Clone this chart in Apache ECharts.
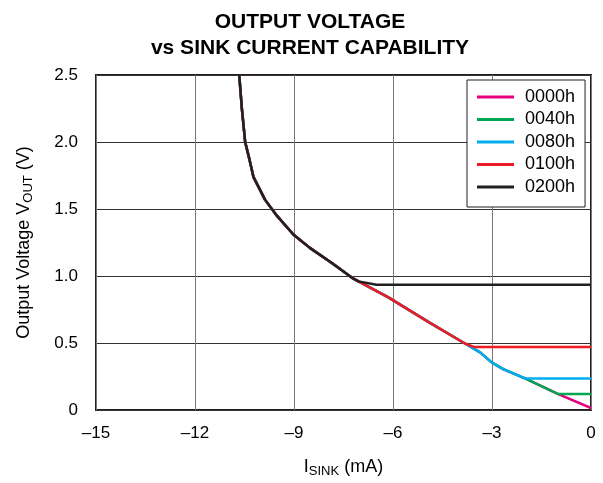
<!DOCTYPE html>
<html><head><meta charset="utf-8">
<script src="https://cdn.jsdelivr.net/npm/echarts@6/dist/echarts.min.js"></script>
<style>html,body{margin:0;padding:0;background:#fff}#c{width:603px;height:483px}</style>
</head><body><div id="c"></div>
<script>
var seriesNames = ['0000h', '0040h', '0080h', '0100h', '0200h'];
var seriesColors = ['#e6007e', '#00a651', '#00aeef', '#ed1c24', '#231f20'];
var xTicks = [-15, -12, -9, -6, -3, 0];
var yTicks = [0, 0.5, 1.0, 1.5, 2.0, 2.5];

var shared_I = [-10.66, -10.58, -10.48, -10.35, -10.23, -9.88, -9.52, -9.02, -8.52, -7.81, -7.2];
var shared_V = [2.5, 2.25, 2.0, 1.87, 1.74, 1.57, 1.45, 1.31, 1.21, 1.09, 0.98];

var i0000 = [-6.14, -4.88, -3.82, -3.36, -3.01, -2.66, -2.0, -0.99, 0];
var v0000 = [0.84, 0.65, 0.496, 0.43, 0.355, 0.305, 0.236, 0.119, 0.015];
var i0040 = [-6.14, -4.88, -3.82, -3.36, -3.01, -2.66, -2.0, -0.99, 0];
var v0040 = [0.84, 0.65, 0.496, 0.43, 0.355, 0.305, 0.236, 0.119, 0.119];
var i0080 = [-6.14, -4.88, -3.82, -3.36, -3.01, -2.66, -2.0, 0];
var v0080 = [0.84, 0.65, 0.496, 0.43, 0.355, 0.305, 0.236, 0.236];
var i0100 = [-6.14, -4.88, -3.82, -3.55, 0];
var v0100 = [0.84, 0.65, 0.496, 0.471, 0.471];
var i0200 = [-7.05, -6.5, 0];
var v0200 = [0.96, 0.935, 0.935];

function pts(a, b) {
  var I = shared_I.concat(a), V = shared_V.concat(b), out = [];
  for (var k = 0; k < I.length; k++) out.push([I[k], V[k]]);
  return out;
}
var seriesData = [pts(i0000, v0000), pts(i0040, v0040), pts(i0080, v0080), pts(i0100, v0100), pts(i0200, v0200)];

var FONT = 'Liberation Sans, Arial, sans-serif';
var chart = echarts.init(document.getElementById('c'), null, {renderer: 'canvas'});
chart.setOption({
  animation: false,
  backgroundColor: '#fff',
  title: {
    text: 'OUTPUT VOLTAGE\nvs SINK CURRENT CAPABILITY',
    left: 305, textAlign: 'center', top: 4,
    textStyle: {fontFamily: FONT, fontSize: 21, fontWeight: 'bold', color: '#000', lineHeight: 26}
  },
  legend: {
    data: seriesNames, orient: 'vertical', left: 467, top: 80,
    backgroundColor: '#fff', borderColor: '#231f20', borderWidth: 1,
    padding: [8, 10, 11, 10], itemWidth: 37, itemHeight: 3, itemGap: 4.5, icon: 'rect',
    textStyle: {fontFamily: FONT, fontSize: 18, color: '#000', padding: [0, 0, 0, 6]}
  },
  grid: {left: 96, right: 12, top: 75, bottom: 72, show: true, borderColor: '#231f20', borderWidth: 2, containLabel: false},
  xAxis: {
    type: 'value', min: xTicks[0], max: xTicks[xTicks.length - 1], interval: 3,
    axisLine: {show: false}, axisTick: {show: false},
    splitLine: {lineStyle: {color: '#777', width: 1}},
    axisLabel: {margin: 15, fontFamily: FONT, fontSize: 17, color: '#000',
      formatter: function (v) { return v < 0 ? '\u2013' + Math.abs(v) : String(v); }},
    name: 'I{sub|SINK} (mA)', nameLocation: 'middle', nameGap: 46,
    nameTextStyle: {fontFamily: FONT, fontSize: 18, color: '#000',
      rich: {sub: {fontFamily: FONT, fontSize: 13, color: '#000', verticalAlign: 'bottom', padding: [9, 0, 0, 0]}}}
  },
  yAxis: {
    type: 'value', min: yTicks[0], max: yTicks[yTicks.length - 1], interval: 0.5,
    axisLine: {show: false}, axisTick: {show: false},
    splitLine: {lineStyle: {color: '#333', width: 1}},
    axisLabel: {margin: 18, fontFamily: FONT, fontSize: 17, color: '#000',
      formatter: function (v) { return v === 0 ? '0' : v.toFixed(1); }},
    name: 'Output Voltage V{sub|OUT} (V)', nameLocation: 'middle', nameGap: 61,
    nameTextStyle: {fontFamily: FONT, fontSize: 18, color: '#000',
      rich: {sub: {fontFamily: FONT, fontSize: 13, color: '#000', verticalAlign: 'bottom', padding: [9, 0, 0, 0]}}}
  },
  series: seriesNames.map(function (n, k) {
    return {name: n, type: 'line', data: seriesData[k], showSymbol: false, symbol: 'none',
      color: seriesColors[k], lineStyle: {width: 2.5, color: seriesColors[k]}, z: 2 + k};
  })
});
</script></body></html>
